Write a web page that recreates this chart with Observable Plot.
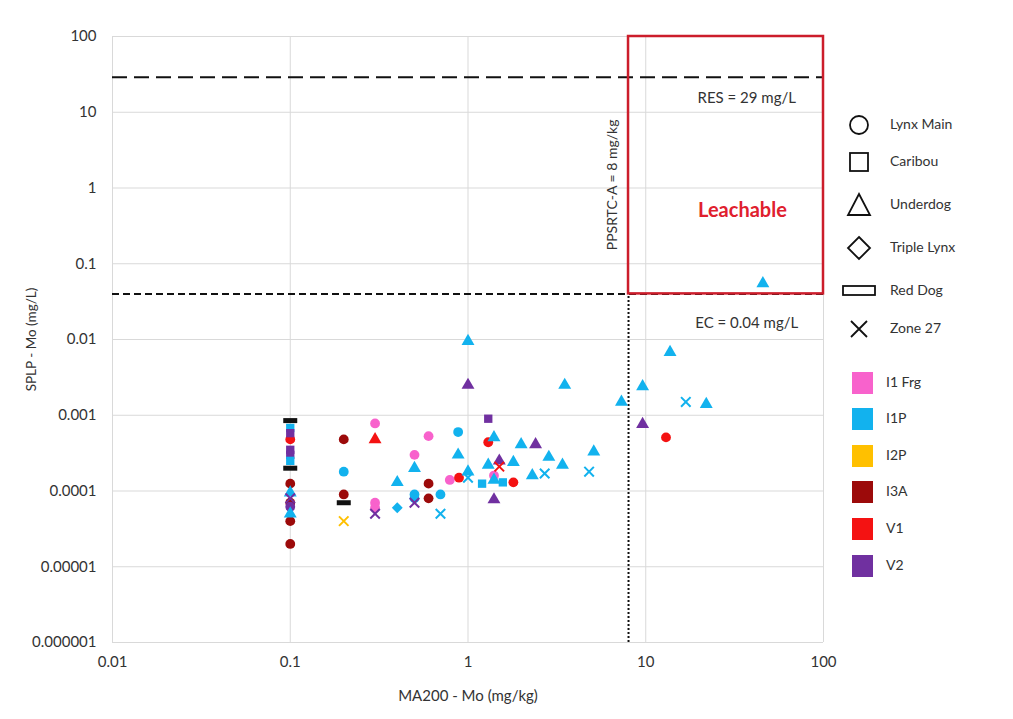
<!DOCTYPE html>
<html>
<head>
<meta charset="utf-8">
<script src="https://cdn.jsdelivr.net/npm/d3@7"></script>
<script src="https://cdn.jsdelivr.net/npm/@observablehq/plot@0.6"></script>
<style>
  body { margin: 0; background: #fff; }
  #wrap { position: relative; width: 1013px; height: 719px; font-family: Lato, "Open Sans", sans-serif; color: #333; }
  #legend { position: absolute; left: 0; top: 0; width: 1013px; height: 719px; pointer-events: none; }
  .lg { position: absolute; font-size: 14px; color: #333; line-height: 16px; }
</style>
</head>
<body>
<div id="wrap">
  <div id="chart"></div>
  <div id="legend"></div>
</div>
<script>
// ---- data ----
const deposits = ["Lynx Main", "Caribou", "Underdog", "Triple Lynx", "Red Dog", "Zone 27"];
const units = ["I1 Frg", "I1P", "I2P", "I3A", "V1", "V2"];
const unitColors = ["#f862cc", "#12b2ee", "#ffc000", "#9c0a0a", "#f41212", "#7030a0"];

const xTicks = [0.01, 0.1, 1, 10, 100];
const xTickLabels = ["0.01", "0.1", "1", "10", "100"];
const yTicks = [0.000001, 0.00001, 0.0001, 0.001, 0.01, 0.1, 1, 10, 100];
const yTickLabels = ["0.000001", "0.00001", "0.0001", "0.001", "0.01", "0.1", "1", "10", "100"];
const xTitle = "MA200 - Mo (mg/kg)";
const yTitle = "SPLP - Mo (mg/L)";

// MA200 - Mo (mg/kg)
const ptX = [
  0.1, 0.1, 0.1, 0.1, 0.1, 0.1, 0.1, 0.1, 0.1, 0.1, 0.1, 0.1, 0.1, 0.1, 0.1, 0.1,
  0.2, 0.2, 0.2, 0.2, 0.2,
  0.3, 0.3, 0.3, 0.3, 0.3,
  0.4, 0.4,
  0.5, 0.5, 0.5, 0.5, 0.5,
  0.6, 0.6, 0.6,
  0.7, 0.7,
  0.79, 0.89, 0.88, 0.88, 1.0, 1.0, 1.0, 1.0,
  1.3, 1.3, 1.4, 1.99, 2.4, 2.85, 1.3, 1.5, 1.5, 1.8, 1.2, 1.4, 1.4, 1.57, 1.8, 1.4,
  2.3, 2.7, 3.5, 3.4, 5.1, 4.8, 7.3, 9.6, 13.7, 16.8, 21.9, 45.6, 9.6, 13
];
// SPLP - Mo (mg/L)
const ptY = [
  0.00085, 0.0002, 0.00068, 0.00058, 0.00048, 0.00035, 0.0003, 0.00025, 0.000125, 0.000095, 0.00008, 0.00007, 0.000062, 0.00005, 0.00004, 0.00002,
  0.00048, 0.00018, 0.00009, 0.00007, 0.00004,
  0.00078, 0.00048, 0.00007, 0.00006, 0.00005,
  0.00013, 0.00006,
  0.0003, 0.0002, 0.00009, 0.00008, 0.00007,
  0.00053, 0.000125, 0.00008,
  0.00009, 0.00005,
  0.00014, 0.00015, 0.0006, 0.0003, 0.00018, 0.00015, 0.0095, 0.0025,
  0.0009, 0.00044, 0.00051, 0.00041, 0.00041, 0.00028, 0.00022, 0.00025, 0.00021, 0.00024, 0.000125, 0.00016, 0.00014, 0.00013, 0.00013, 0.000077,
  0.00016, 0.00017, 0.0025, 0.00022, 0.00033, 0.00018, 0.0015, 0.0024, 0.0068, 0.0015, 0.0014, 0.055, 0.00076, 0.00051
];
const ptDeposit = [
  "Red Dog", "Red Dog", "Caribou", "Caribou", "Lynx Main", "Caribou", "Caribou", "Caribou", "Lynx Main", "Underdog", "Zone 27", "Lynx Main", "Lynx Main", "Underdog", "Lynx Main", "Lynx Main",
  "Lynx Main", "Lynx Main", "Lynx Main", "Red Dog", "Zone 27",
  "Lynx Main", "Underdog", "Lynx Main", "Lynx Main", "Zone 27",
  "Underdog", "Triple Lynx",
  "Lynx Main", "Underdog", "Lynx Main", "Lynx Main", "Zone 27",
  "Lynx Main", "Lynx Main", "Lynx Main",
  "Lynx Main", "Zone 27",
  "Lynx Main", "Lynx Main", "Lynx Main", "Underdog", "Underdog", "Zone 27", "Underdog", "Underdog",
  "Caribou", "Lynx Main", "Underdog", "Underdog", "Underdog", "Underdog", "Underdog", "Underdog", "Zone 27", "Underdog", "Caribou", "Lynx Main", "Underdog", "Caribou", "Lynx Main", "Underdog",
  "Underdog", "Zone 27", "Underdog", "Underdog", "Underdog", "Zone 27", "Underdog", "Underdog", "Underdog", "Zone 27", "Underdog", "Underdog", "Underdog", "Lynx Main"
];
const ptUnit = [
  "I1P", "I1P", "I1P", "V2", "V1", "V2", "V2", "I1P", "I3A", "I1P", "V2", "I3A", "V2", "I1P", "I3A", "I3A",
  "I3A", "I1P", "I3A", "I1P", "I2P",
  "I1 Frg", "V1", "I1 Frg", "I1 Frg", "V2",
  "I1P", "I1P",
  "I1 Frg", "I1P", "I1P", "I1P", "V2",
  "I1 Frg", "I3A", "I3A",
  "I1P", "I1P",
  "I1 Frg", "V1", "I1P", "I1P", "I1P", "I1P", "I1P", "V2",
  "V2", "V1", "I1P", "I1P", "V2", "I1P", "I1P", "V2", "V1", "I1P", "I1P", "I1 Frg", "I1P", "I1P", "V1", "V2",
  "I1P", "I1P", "I1P", "I1P", "I1P", "I1P", "I1P", "I1P", "I1P", "I1P", "I1P", "I1P", "V2", "V1"
];

// reference thresholds
const resValue = 29, ecValue = 0.04, ppsrtcValue = 8;
const annoText = ["RES = 29 mg/L", "EC = 0.04 mg/L"];
const annoX = [37, 37];
const annoY = [15.5, 0.0165];

const rows = ptX.map((x, i) => ({x, y: ptY[i], dep: ptDeposit[i], unit: ptUnit[i]}));

const redDogSymbol = { draw(ctx) { ctx.rect(-7, -2.5, 14, 5); } };
const symbolOf = {"Lynx Main": "circle", "Caribou": "square", "Underdog": "triangle", "Triple Lynx": "diamond2"};
const rOf = {"Lynx Main": 4.9, "Caribou": 4.7, "Underdog": 4.8, "Triple Lynx": 4.9};

const pointMarks = [];
for (const dep of ["Lynx Main", "Caribou", "Triple Lynx", "Underdog"]) {
  pointMarks.push(Plot.dot(rows.filter(d => d.dep === dep), {
    x: "x", y: "y", symbol: symbolOf[dep], r: rOf[dep], fill: "unit", stroke: "none"
  }));
}
pointMarks.push(Plot.dot(rows.filter(d => d.dep === "Zone 27"), {
  x: "x", y: "y", symbol: "times", r: 4.4, stroke: "unit", strokeWidth: 2, fill: "none"
}));
pointMarks.push(Plot.dot(rows.filter(d => d.dep === "Red Dog"), {
  x: "x", y: "y", symbol: redDogSymbol, r: 4, fill: "#111", stroke: "none"
}));

const xLabelOf = v => xTickLabels[xTicks.indexOf(v)];
const yLabelOf = v => yTickLabels[yTicks.indexOf(v)];

const chart = Plot.plot({
  width: 1013,
  height: 719,
  marginLeft: 112,
  marginRight: 190,
  marginTop: 36,
  marginBottom: 77,
  style: {fontFamily: "Lato, 'Open Sans', sans-serif", fontSize: "14px", color: "#333", background: "#fff"},
  x: {type: "log", domain: [0.01, 100], axis: null},
  y: {type: "log", domain: [0.000001, 100], axis: null},
  color: {domain: units, range: unitColors},
  marks: [
    Plot.gridX(xTicks, {stroke: "#d9d9d9", strokeOpacity: 1, strokeWidth: 1}),
    Plot.gridY(yTicks, {stroke: "#d9d9d9", strokeOpacity: 1, strokeWidth: 1}),
    Plot.text(xTicks, {x: d => d, y: yTicks[0], text: xLabelOf, dy: 20, fontSize: 15, fill: "#333"}),
    Plot.text(yTicks, {y: d => d, x: xTicks[0], text: yLabelOf, dx: -16, textAnchor: "end", fontSize: 15, fill: "#333"}),
    Plot.text([xTitle], {frameAnchor: "bottom", text: d => d, dy: 58, fontSize: 15, fill: "#333"}),
    Plot.text([yTitle], {frameAnchor: "left", textAnchor: "middle", text: d => d, dx: -81, rotate: -90, fontSize: 13.5, fill: "#333"}),
    Plot.ruleY([ecValue], {stroke: "#111", strokeWidth: 2, strokeDasharray: "7,4"}),
    Plot.ruleY([resValue], {stroke: "#111", strokeWidth: 2, strokeDasharray: "15,7"}),
    Plot.ruleX([ppsrtcValue], {y1: 0.000001, y2: ecValue, stroke: "#111", strokeWidth: 2, strokeDasharray: "2,2"}),
    ...pointMarks,
    Plot.rect([{x1: ppsrtcValue, x2: 100, y1: ecValue, y2: 100}], {
      x1: "x1", x2: "x2", y1: "y1", y2: "y2", fill: "none", stroke: "#cc1d2b", strokeWidth: 2.5
    }),
    Plot.text(annoText, {x: (d, i) => annoX[i], y: (d, i) => annoY[i], text: d => d, fontSize: 15, fill: "#333"}),
    Plot.text(["Leachable"], {x: [35], y: [0.5], text: d => d, fontSize: 20, fontWeight: "bold", fill: "#e0202e"}),
    Plot.text(["PPSRTC-A = 8 mg/kg"], {x: [6.5], y: [1.1], text: d => d, rotate: -90, fontSize: 14, fill: "#333"})
  ]
});
document.getElementById("chart").appendChild(chart);

// ---- legend (HTML) ----
const legend = document.getElementById("legend");
const symY = [125, 162, 205, 248, 291, 329];
const symSvg = [
  '<circle cx="15" cy="15" r="9" fill="none" stroke="#111" stroke-width="1.8"/>',
  '<rect x="6" y="6" width="18" height="18" fill="none" stroke="#111" stroke-width="1.8"/>',
  '<path d="M15 4 L26 25 L4 25 Z" fill="none" stroke="#111" stroke-width="1.8"/>',
  '<path d="M15 4 L26 15 L15 26 L4 15 Z" fill="none" stroke="#111" stroke-width="1.8"/>',
  '<rect x="-1" y="10" width="32" height="9" fill="none" stroke="#111" stroke-width="1.8"/>',
  '<path d="M7 7 L23 23 M23 7 L7 23" fill="none" stroke="#111" stroke-width="1.8"/>'
];
deposits.forEach((name, i) => {
  const s = document.createElement("div");
  s.style.cssText = `position:absolute;left:843px;top:${symY[i] - 15}px;width:30px;height:30px;`;
  s.innerHTML = `<svg width="32" height="30" viewBox="-1 0 32 30" style="overflow:visible">${symSvg[i]}</svg>`;
  legend.appendChild(s);
  const t = document.createElement("div");
  t.className = "lg";
  t.textContent = name;
  t.style.left = "890px";
  t.style.top = (symY[i] - 9) + "px";
  legend.appendChild(t);
});
const swY = [383, 419, 456, 492, 529, 566];
units.forEach((u, i) => {
  const s = document.createElement("div");
  s.style.cssText = `position:absolute;left:852px;top:${swY[i] - 11}px;width:21px;height:22px;background:${unitColors[i]};`;
  legend.appendChild(s);
  const t = document.createElement("div");
  t.className = "lg";
  t.textContent = u;
  t.style.left = "886px";
  t.style.top = (swY[i] - 9) + "px";
  legend.appendChild(t);
});
</script>
</body>
</html>
